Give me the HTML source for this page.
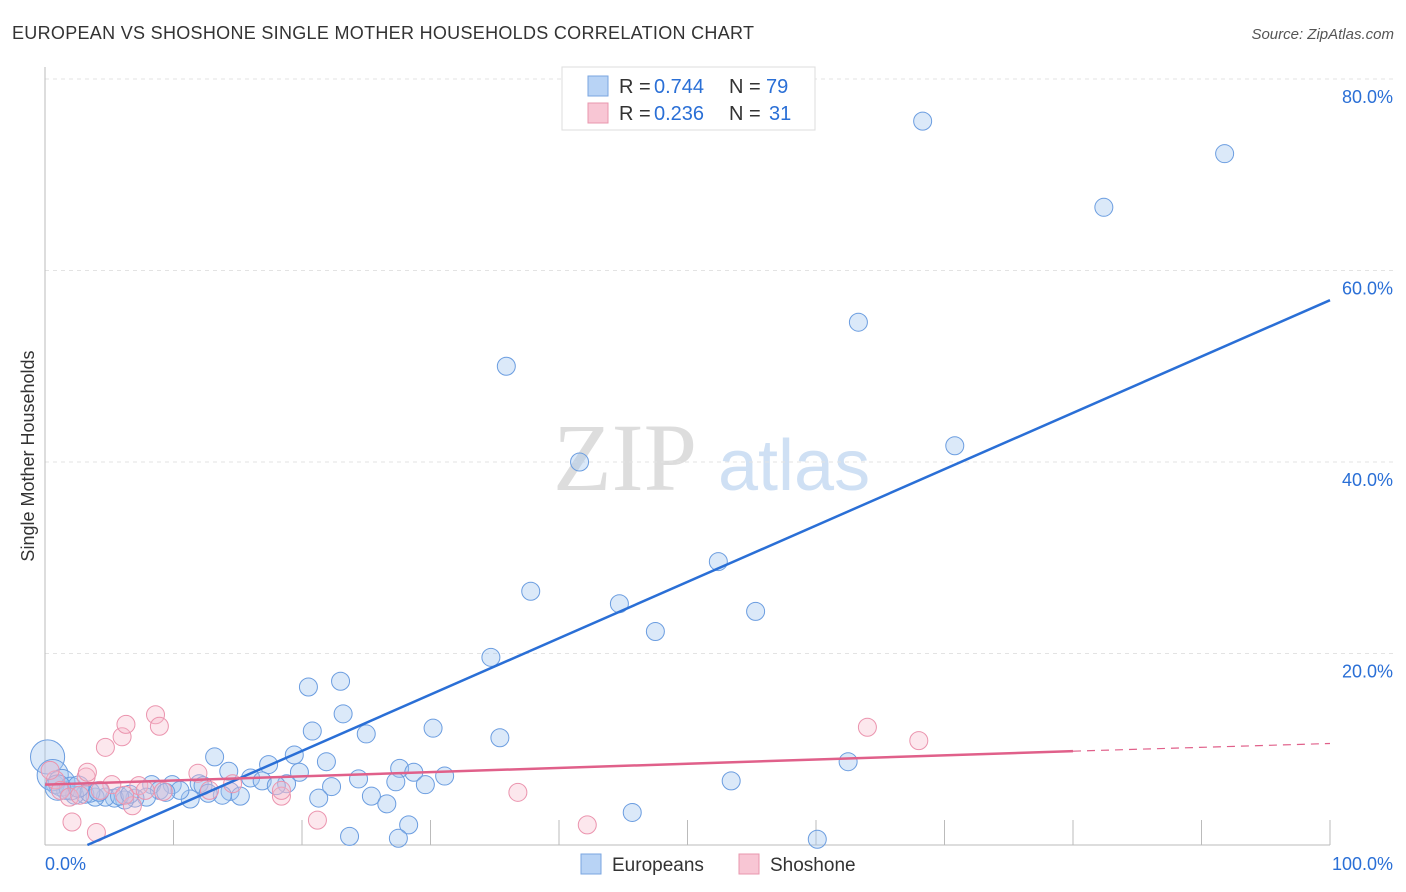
<!DOCTYPE html>
<html><head><meta charset="utf-8"><style>
body{margin:0;background:#fff;font-family:"Liberation Sans",sans-serif}
svg{display:block}
</style></head><body>
<svg id="c" width="1406" height="892" xmlns="http://www.w3.org/2000/svg">
<text x="12" y="39" font-size="18" fill="#333" textLength="742">EUROPEAN VS SHOSHONE SINGLE MOTHER HOUSEHOLDS CORRELATION CHART</text>
<text x="1394" y="39" font-size="15" fill="#555" font-style="italic" text-anchor="end">Source: ZipAtlas.com</text>
<text x="34" y="456" font-size="18" fill="#333" text-anchor="middle" transform="rotate(-90 34 456)">Single Mother Households</text>
<g><text x="553" y="490" font-size="96" font-family="Liberation Serif,serif" fill="#ddd">ZIP</text><text x="718" y="490" font-size="72" fill="#cfe0f4">atlas</text></g>
<g id="grid"></g><g id="pts"></g><g id="lines"></g>
<g>
<rect x="562" y="67" width="253" height="63" fill="#fff" stroke="#ddd"/>
<rect x="588" y="76" width="20" height="20" fill="#b8d3f5" stroke="#7aa6e0"/>
<rect x="588" y="103" width="20" height="20" fill="#f8c6d4" stroke="#e897ae"/>
<text x="619" y="93" font-size="20" fill="#333">R = </text><text x="654" y="93" font-size="20" fill="#2a6fd6">0.744</text>
<text x="729" y="93" font-size="20" fill="#333">N = </text><text x="766" y="93" font-size="20" fill="#2a6fd6">79</text>
<text x="619" y="120" font-size="20" fill="#333">R = </text><text x="654" y="120" font-size="20" fill="#2a6fd6">0.236</text>
<text x="729" y="120" font-size="20" fill="#333">N = </text><text x="769" y="120" font-size="20" fill="#2a6fd6">31</text>
</g>
<g>
<rect x="581" y="854" width="20" height="20" fill="#b8d3f5" stroke="#7aa6e0"/>
<text x="612" y="871" font-size="19" fill="#333">Europeans</text>
<rect x="739" y="854" width="20" height="20" fill="#f8c6d4" stroke="#e897ae"/>
<text x="770" y="871" font-size="19" fill="#333">Shoshone</text>
</g>
<text x="45" y="870" font-size="18" fill="#2a6fd6">0.0%</text>
<text x="1393" y="870" font-size="18" fill="#2a6fd6" text-anchor="end">100.0%</text>
</svg>
<script>
const yTicks=[20,40,60,80];
const euroX=[68.3,91.8,82.4,63.3,35.9,70.8,41.6,52.4,37.8,44.7,55.3,47.5,34.7,20.5,23.0,23.2,20.8,25.0,30.2,35.4,13.2,19.4,17.4,21.9,14.3,27.6,28.7,19.8,16.0,31.1,24.4,27.3,29.6,53.4,62.5,22.3,18.8,21.3,25.4,26.6,28.3,23.7,27.5,45.7,60.1,8.3,9.9,12.0,12.3,14.4,15.2,13.8,12.7,11.3,10.5,8.9,7.9,7.0,6.2,5.4,4.7,3.9,3.1,2.3,1.6,0.8,16.9,18.0,0.2,0.6,1.3,2.0,3.5,4.2,5.8,1.0,2.6,6.6,9.4];
const euroY=[75.6,72.2,66.6,54.6,50.0,41.7,40.0,29.6,26.5,25.2,24.4,22.3,19.6,16.5,17.1,13.7,11.9,11.6,12.2,11.2,9.2,9.4,8.4,8.7,7.7,8.0,7.6,7.6,7.0,7.2,6.9,6.6,6.3,6.7,8.7,6.1,6.4,4.9,5.1,4.3,2.1,0.9,0.7,3.4,0.6,6.3,6.3,6.4,6.2,5.6,5.1,5.2,5.4,4.8,5.7,5.7,5.0,4.9,4.7,4.9,5.0,5.0,5.3,5.2,5.7,6.3,6.7,6.2,9.2,7.3,6.5,5.9,5.5,5.6,5.1,6.0,6.1,5.3,5.5];
const euroW=[1,1,1,1,1,1,1,1,1,1,1,1,1,1,1,1,1,1,1,1,1,1,1,1,1,1,1,1,1,1,1,1,1,1,1,1,1,1,1,1,1,1,1,1,1,1,1,1,1,1,1,1,1,1,1,1,1,1,1,1,1,1,1,1,1,1,1,1,3.6,3.0,2.2,1.6,1.2,1.2,1,2,1.4,1,1];
const shoX=[4.7,6.0,6.3,8.6,8.9,3.2,3.3,11.9,5.2,7.3,9.2,14.6,18.4,21.2,2.1,4.0,18.4,36.8,42.2,64.0,68.0,6.8,0.8,1.2,1.9,2.7,6.2,4.3,0.4,7.8,12.8];
const shoY=[10.2,11.3,12.6,13.6,12.4,7.1,7.6,7.5,6.3,6.2,5.6,6.4,5.1,2.6,2.4,1.3,5.7,5.5,2.1,12.3,10.9,4.1,6.8,5.7,5.0,5.2,5.2,5.7,7.8,5.7,5.7];
const euroFit=[3.3,0,100,56.9];
const shoFit=[0,6.3,80,9.8,100,10.6];
const X=v=>45+v*12.85, Y=v=>845-v*9.575;
const NS='http://www.w3.org/2000/svg';
function mk(t,a,p){const e=document.createElementNS(NS,t);for(const k in a)e.setAttribute(k,a[k]);p.appendChild(e);return e;}
const g=document.getElementById('grid');
yTicks.forEach(t=>{
 const l=mk('line',{x1:45,x2:1393,y1:Y(t),y2:Y(t),stroke:'#e3e3e3','stroke-dasharray':'4,4'},g);
 
 
 const tx=mk('text',{x:1393,y:Y(t)+24,'font-size':18,fill:'#2a6fd6','text-anchor':'end'},g);
 tx.textContent=t.toFixed(1)+'%';
 
 
});
mk('line',{x1:45,x2:45,y1:67,y2:845,stroke:'#bbb'},g);
mk('line',{x1:45,x2:1330,y1:845,y2:845,stroke:'#bbb'},g);
for(let i=1;i<=10;i++){const t=mk('line',{x1:X(i*10),x2:X(i*10),y1:820,y2:845,stroke:'#bbb'},g);
 
 }
const pg=document.getElementById('pts');
euroX.forEach((x,i)=>{const c=mk('circle',{cx:X(x),cy:Y(euroY[i]),r:9*Math.sqrt(euroW[i]),fill:'rgba(160,196,240,0.38)',stroke:'#6b9de0','stroke-width':1},pg);
 
 });
shoX.forEach((x,i)=>{const c=mk('circle',{cx:X(x),cy:Y(shoY[i]),r:9,fill:'rgba(246,186,204,0.35)',stroke:'#eb94ae','stroke-width':1},pg);
 
 });
const lg=document.getElementById('lines');
const bl=mk('line',{x1:X(euroFit[0]),y1:Y(euroFit[1]),x2:X(euroFit[2]),y2:Y(euroFit[3]),stroke:'#2a6fd6','stroke-width':2.5},lg);


const pl=mk('line',{x1:X(shoFit[0]),y1:Y(shoFit[1]),x2:X(shoFit[2]),y2:Y(shoFit[3]),stroke:'#e0608a','stroke-width':2.5},lg);


const pd=mk('line',{x1:X(shoFit[2]),y1:Y(shoFit[3]),x2:X(shoFit[4]),y2:Y(shoFit[5]),stroke:'#e0608a','stroke-width':1.2,'stroke-dasharray':'8,6'},lg);


</script>
</body></html>
